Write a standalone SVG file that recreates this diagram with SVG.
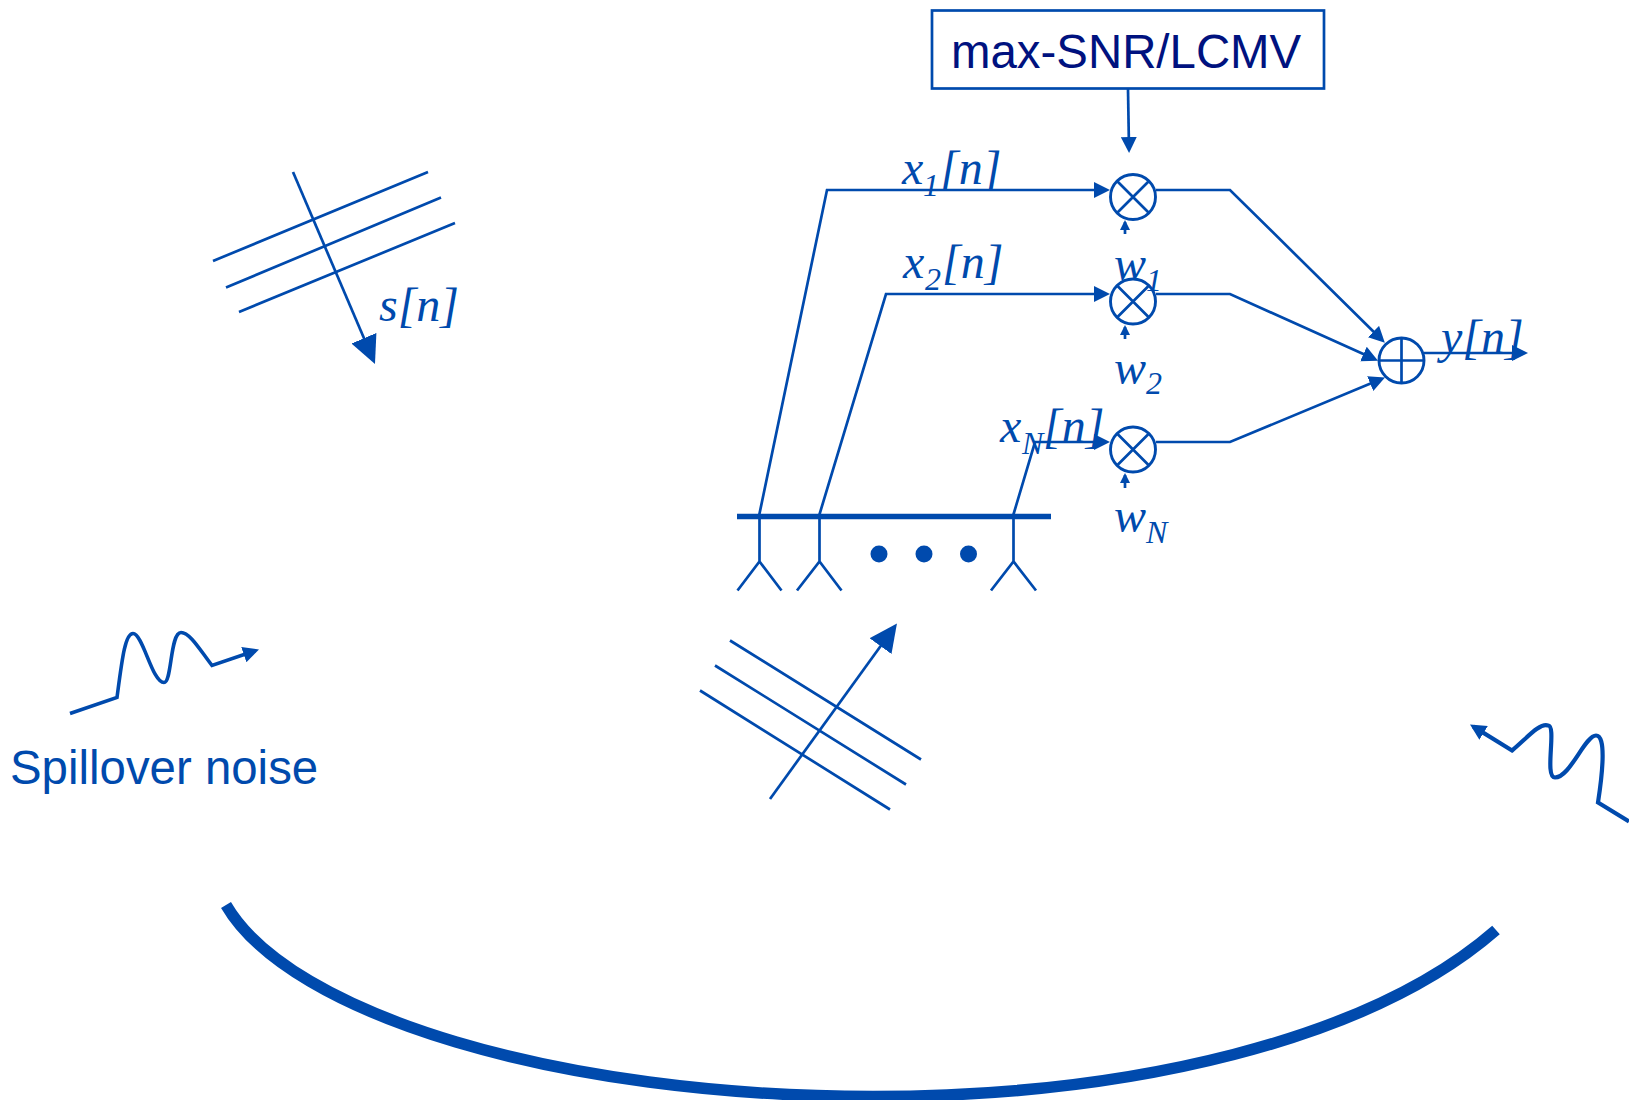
<svg xmlns="http://www.w3.org/2000/svg" width="1629" height="1100" viewBox="0 0 1629 1100">
<style>
.l{fill:none;stroke:#004aad;stroke-width:2.7}
.a{marker-end:url(#ah)}
.m{fill:#fff;stroke:#004aad;stroke-width:2.9}
.t{font-family:"Liberation Serif","Times New Roman",serif;font-style:italic;font-size:48px;fill:#004aad}
.s{font-size:32px}
.h{font-family:"Liberation Sans",Arial,sans-serif;font-size:47.400px}
</style>
<defs>
<marker id="ah" markerUnits="userSpaceOnUse" viewBox="0 0 16 16" markerWidth="16" markerHeight="16" refX="12" refY="8" orient="auto"><path d="M0 0L16 8L0 16z" fill="#004aad"/></marker>
<marker id="as" markerUnits="userSpaceOnUse" viewBox="0 0 10 10" markerWidth="10" markerHeight="10" refX="8" refY="5" orient="auto"><path d="M0 0L10 5L0 10z" fill="#004aad"/></marker>
<marker id="al" markerUnits="userSpaceOnUse" viewBox="0 0 28 27" markerWidth="28" markerHeight="27" refX="24" refY="13.5" orient="auto"><path d="M0 0L28 13.5L0 27z" fill="#004aad"/></marker>
</defs>
<rect width="1629" height="1100" fill="#fff"/>

<g id="connectors">
<path class="l a" d="M1128 89L1129 149"/>
<path class="l a" d="M759 516L827 190H1106"/>
<path class="l a" d="M819 516L886 294H1106"/>
<path class="l a" d="M1013 516L1035 442H1106"/>
<path class="l a" d="M1156 190H1230L1382 340"/>
<path class="l a" d="M1156 294H1230L1374.400 359"/>
<path class="l a" d="M1156 442H1230L1381.300 379"/>
<path class="l a" d="M1424 353H1524"/>
<path class="l" style="marker-end:url(#as)" d="M1125 234V222"/>
<path class="l" style="marker-end:url(#as)" d="M1125 339V327"/>
<path class="l" style="marker-end:url(#as)" d="M1125 488V475"/>
</g>

<g id="box">
<rect x="932" y="10.500" width="392" height="78" fill="none" stroke="#004aad" stroke-width="2.700"/>
<text class="h" x="951" y="67.500" fill="#00127f">max-SNR/LCMV</text>
</g>

<g id="mult1"><circle class="m" cx="1133" cy="197" r="22.500"/><path class="l" d="M1117 181L1149 213M1149 181L1117 213"/></g>
<g id="mult2"><circle class="m" cx="1133" cy="301.500" r="22.500"/><path class="l" d="M1117 285.500L1149 317.500M1149 285.500L1117 317.500"/></g>
<g id="multN"><circle class="m" cx="1133" cy="449.500" r="22.500"/><path class="l" d="M1117 433.500L1149 465.500M1149 433.500L1117 465.500"/></g>
<g id="sum"><circle class="m" cx="1401.500" cy="360.500" r="22.500"/><path class="l" d="M1379 360.500H1424M1401.500 338V383"/></g>

<g id="array">
<path d="M737 516.500H1051" fill="none" stroke="#004aad" stroke-width="5.500"/>
<path class="l" d="M759.500 516V561.500M737.500 590.500L759.500 561.500L781.500 590.500M819.500 516V561.500M797 590.500L819.500 561.500L841.500 590.500M1013.500 516V561.500M991 590.500L1013.500 561.500L1036 590.500"/>
<circle cx="879" cy="554" r="8.500" fill="#004aad"/>
<circle cx="924" cy="554" r="8.500" fill="#004aad"/>
<circle cx="968.500" cy="554" r="8.500" fill="#004aad"/>
</g>

<g id="labels">
<text class="t" x="902" y="184">x<tspan class="s" x="923" y="196">1</tspan><tspan x="940" y="184">[n]</tspan></text>
<text class="t" x="903" y="278">x<tspan class="s" x="925" y="290">2</tspan><tspan x="942" y="278">[n]</tspan></text>
<text class="t" x="1000" y="442">x<tspan class="s" x="1022" y="454">N</tspan><tspan x="1043" y="442">[n]</tspan></text>
<text class="t" x="1114" y="280">w<tspan class="s" x="1146" y="291">1</tspan></text>
<text class="t" x="1114" y="384">w<tspan class="s" x="1146" y="394">2</tspan></text>
<text class="t" x="1114" y="532">w<tspan class="s" x="1146" y="543">N</tspan></text>
<text class="t" x="1441" y="353">y[n]</text>
<text class="t" x="379" y="321">s[n]</text>
</g>

<g id="wave-signal">
<path class="l" d="M213 261L428 172M226 287.500L441 197.500M239 312L455 223"/>
<path class="l" style="marker-end:url(#al)" d="M293 172L373.400 360.300"/>
</g>

<g id="wave-array">
<path class="l" d="M730 640.500L921 759.500M715 665.500L906 784.500M700 690.500L890 809.500"/>
<path class="l" style="marker-end:url(#al)" d="M770 799L894.600 626.700"/>
</g>

<g id="noise-left">
<path class="l a" style="stroke-width:3.600" d="M70 713.500L117 697.500C122 660 125 633.500 133 633.500C143 633.500 152 682.500 164 682.500C172 682.500 170 632.500 181 632.500C190 632.500 200 650 212 665.500L255.200 650.800"/>
<text class="h" x="10" y="783.500" fill="#004aad">Spillover noise</text>
</g>

<g id="noise-right">
<path class="l a" style="stroke-width:4.200" d="M1629 821.500L1598 802.500C1603 770 1606 735.500 1596 735.500C1585 735.500 1570 777.500 1555 777.500C1544 777.500 1557 725.500 1548 725.500C1540 722 1525 740 1512 750.500L1473.400 726.600"/>
</g>

<g id="reflector">
<path fill="none" stroke="#004aad" stroke-width="11.500" d="M226 905C290 1015 560 1096.500 873 1096.500C1130 1096.500 1370 1040 1496 930"/>
</g>
</svg>
